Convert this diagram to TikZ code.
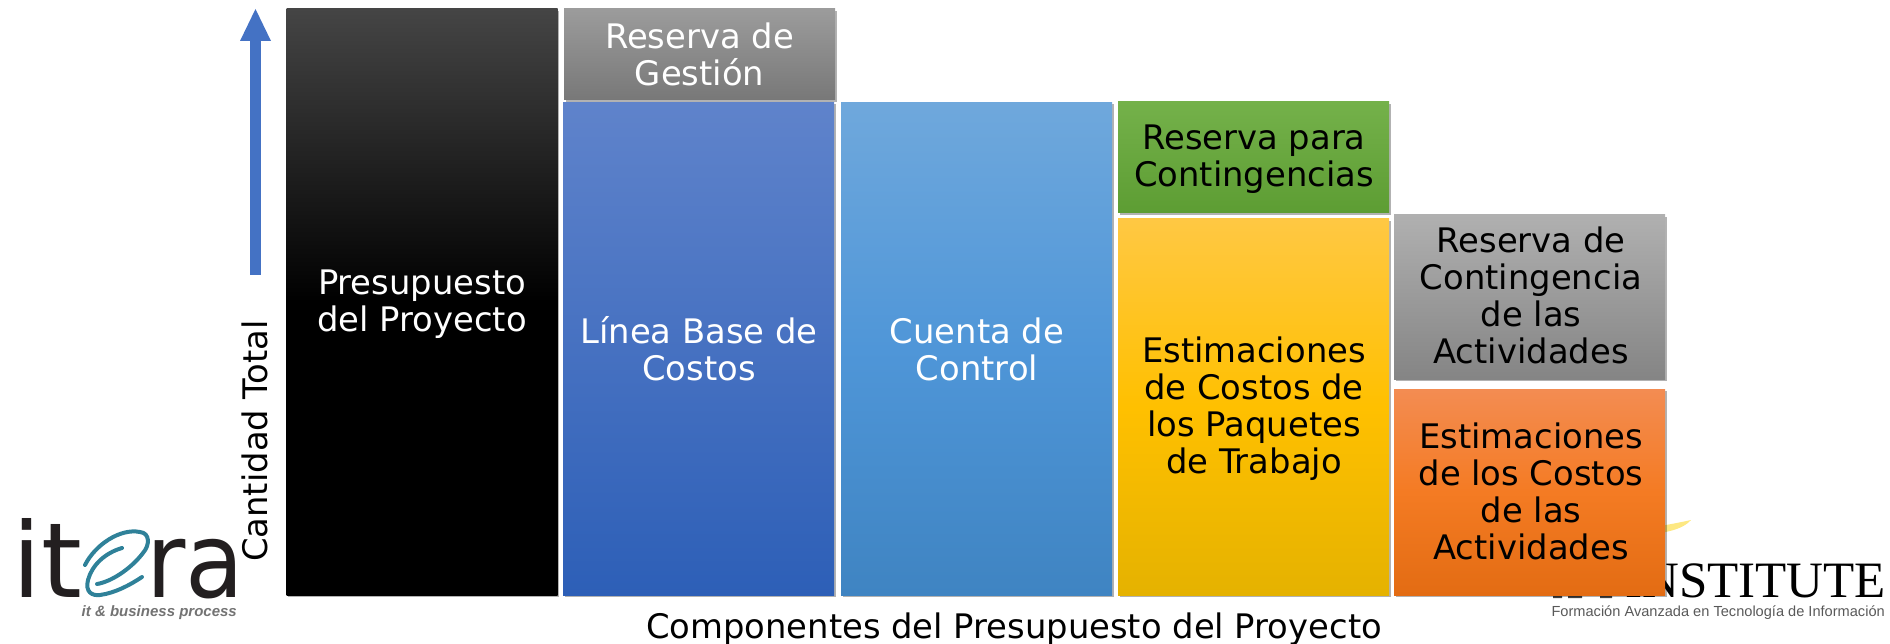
\documentclass[tikz,border=0pt]{standalone}
\usepackage{fontspec}
\setmainfont{DejaVu Sans}
\newfontfamily\logoserif{Liberation Serif}
\newfontfamily\logosans{Liberation Sans}
\usetikzlibrary{shadows}
\definecolor{arrowblue}{HTML}{4472C4}
\definecolor{logoteal}{HTML}{2F8199}
\definecolor{logodark}{HTML}{231F20}
\definecolor{cA}{HTML}{5F83CB}\definecolor{cB}{HTML}{2D5FB7}
\definecolor{dA}{HTML}{6FA8DC}\definecolor{dM}{HTML}{4F96D8}\definecolor{dB}{HTML}{3F84C2}
\definecolor{eA}{HTML}{74B14A}\definecolor{eB}{HTML}{5D9D33}
\definecolor{fA}{HTML}{FFC843}\definecolor{fM}{HTML}{FFC000}\definecolor{fB}{HTML}{E5B200}
\definecolor{hA}{HTML}{F38C52}\definecolor{hM}{HTML}{F47B23}\definecolor{hB}{HTML}{E36C13}
\tikzset{
  x=1pt,y=-1pt,
  bar/.style={drop shadow={shadow xshift=1.5pt,shadow yshift=-2pt,opacity=0.3,fill=black}},
  lbl/.style={font=\fontsize{33.8}{37}\selectfont,align=center,anchor=center},
  logotext/.style={anchor=base west,inner sep=0pt,font=\fontsize{104}{104}\selectfont,text=logodark},
  logoe/.style={logoteal,line width=4pt,line cap=round},
}
\newcommand{\barbox}[6]{% name,x0,y0,x1,y1,colours
  \path[#6,bar] (#2,#3) rectangle (#4,#5);
}
\begin{document}
\begin{tikzpicture}
\useasboundingbox (0,0) rectangle (1890,644);
% itera logo
\node[logotext] (itL) at (12,597) {it};
\node[logotext,xscale=.92] (raL) at (146,597) {ra};
\draw[logoe] (85,565) .. controls (95,545) and (120,528) .. (140,532) .. controls (150,533) and (150,545) .. (143,553) .. controls (130,570) and (110,582) .. (97,584);
\draw[logoe] (122,548) .. controls (105,553) and (92,565) .. (88,580) .. controls (85,592) and (92,596) .. (100,595) .. controls (115,593) and (130,585) .. (142,577);
\node[anchor=base east,inner sep=0pt,font=\logosans\bfseries\itshape\fontsize{15}{15}\selectfont,text=black!55] (itS) at (237,616) {it \& business process};
% institute logo
\node[anchor=base east,inner sep=0pt,font=\logoserif\fontsize{51}{51}\selectfont,text=black] (inst) at (1886,597) {INSTITUTE};
\fill[black!75] (1553,593) rectangle (1562,598) (1568,593) rectangle (1582,598) (1600,593) rectangle (1612,598);
\node[anchor=base east,inner sep=0pt,font=\logosans\fontsize{14.6}{14.6}\selectfont,text=black!65] (form) at (1885,616) {Formación Avanzada en Tecnología de Información};
\fill[yellow!70!orange,opacity=.5] (1660,526) .. controls (1672,524) and (1682,522) .. (1691,520) .. controls (1684,528) and (1672,531) .. (1660,533) -- cycle;
% bars
\barbox{a}{286.5}{9}{557.5}{595}{top color=black!73,bottom color=black,middle color=black}
\barbox{b}{564}{9}{835}{100}{top color=black!39,bottom color=black!53}
\barbox{c}{563}{102.5}{834}{595}{top color=cA,bottom color=cB}
\barbox{d}{841}{102.5}{1112}{595}{top color=dA,bottom color=dB,middle color=dM}
\barbox{e}{1118}{102}{1389}{213}{top color=eA,bottom color=eB}
\barbox{f}{1118}{219}{1389}{595}{top color=fA,bottom color=fB,middle color=fM}
\barbox{g}{1394}{215}{1665}{379}{top color=black!31,bottom color=black!48}
\barbox{h}{1394}{389}{1665}{595}{top color=hA,bottom color=hB,middle color=hM}
% labels
\node[lbl,text=white] (ta) at (422,304) {Presupuesto\\del Proyecto};
\node[lbl,text=white] (tb) at (699.5,54) {Reserva de\\Gestión};
\node[lbl,text=white] (tc) at (699,349) {Línea Base de\\Costos};
\node[lbl,text=white] (td) at (977,349) {Cuenta de\\Control};
\node[lbl] (te) at (1254,159) {Reserva para\\Contingencias};
\node[lbl] (tf) at (1254,409) {Estimaciones\\de Costos de\\los Paquetes\\de Trabajo};
\node[lbl] (tg) at (1531,295) {Reserva de\\Contingencia\\de las\\Actividades};
\node[lbl] (th) at (1531,491) {Estimaciones\\de los Costos\\de las\\Actividades};
% axis
\fill[arrowblue] (250.2,275) -- (250.2,41) -- (240,41) -- (255.5,9) -- (271,41) -- (260.8,41) -- (260.8,275) -- cycle;
\node[lbl,rotate=90] (ty) at (255,441) {Cantidad Total};
\node[lbl] (tx) at (1014,629) {Componentes del Presupuesto del Proyecto};
\end{tikzpicture}
\end{document}
